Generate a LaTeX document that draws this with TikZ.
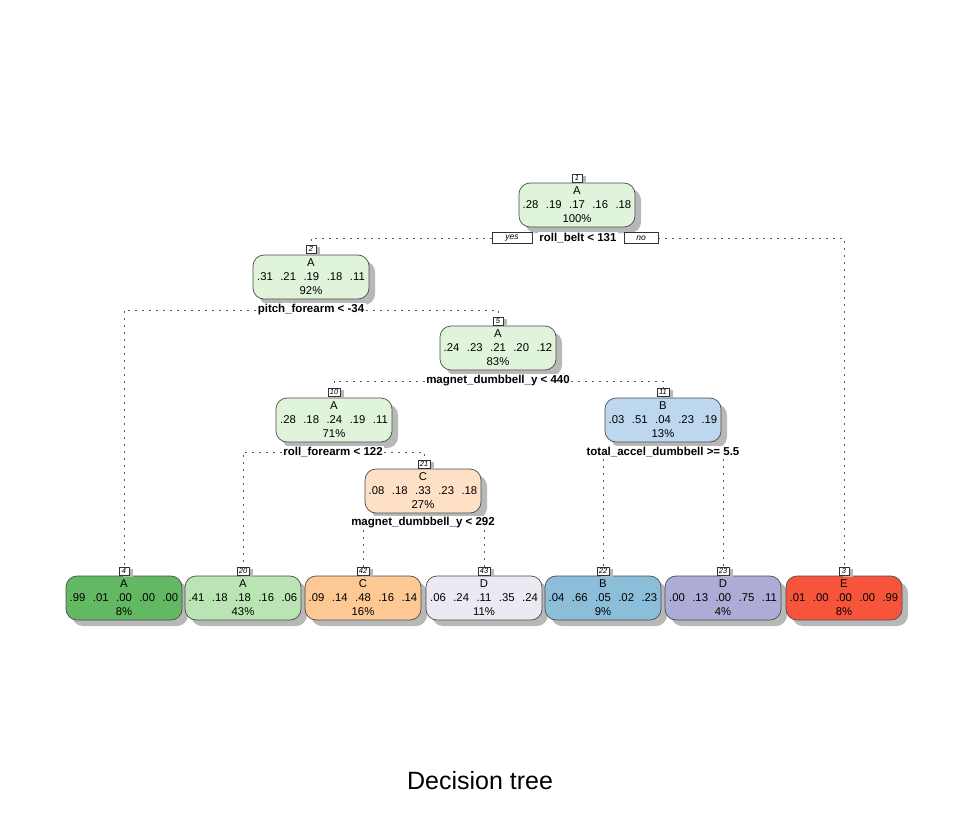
\documentclass[tikz,border=0pt]{standalone}
\usepackage{fontspec}
\setmainfont{Liberation Sans}
\usetikzlibrary{shadows}
\pgfdeclarelayer{bg}
\pgfsetlayers{bg,main}
\definecolor{cAi}{RGB}{224,243,219}
\definecolor{cAleaf}{RGB}{99,185,99}
\definecolor{cAlt}{RGB}{186,228,179}
\definecolor{cCleaf}{RGB}{253,200,148}
\definecolor{cCi}{RGB}{254,224,198}
\definecolor{cDlt}{RGB}{236,233,242}
\definecolor{cBleaf}{RGB}{140,190,218}
\definecolor{cBi}{RGB}{189,215,238}
\definecolor{cDleaf}{RGB}{172,172,214}
\definecolor{cEleaf}{RGB}{246,85,60}
\newcommand{\pr}[5]{#1\hspace{7.5pt}#2\hspace{7.5pt}#3\hspace{7.5pt}#4\hspace{7.5pt}#5}
\tikzset{
  tnode/.style={draw=black!70, line width=0.7pt, rounded corners=11pt,
    minimum width=116pt, minimum height=44pt, inner sep=0pt, align=center,
    font=\fontsize{11.3}{14}\selectfont,
    drop shadow={shadow xshift=6pt, shadow yshift=-6pt, fill=black!28, opacity=1}},
  numlab/.style={draw=black!80, fill=white, line width=0.5pt,
    font=\fontsize{7.5}{8}\selectfont\itshape, inner xsep=2pt, inner ysep=0.5pt,
    minimum height=8.5pt, minimum width=10.5pt,
    drop shadow={shadow xshift=4pt, shadow yshift=-2pt, fill=black!28, opacity=1}},
  splitlab/.style={font=\fontsize{11.5}{13}\selectfont\bfseries, fill=white, inner sep=1.5pt},
  yesno/.style={draw=black!80, fill=white, line width=0.5pt,
    font=\fontsize{8.5}{10}\selectfont\itshape, minimum height=11pt, inner sep=0pt},
  edge/.style={draw=black!65, line width=0.7pt, dash pattern=on 2pt off 5pt}
}
\begin{document}
\begin{tikzpicture}[x=1pt,y=-1pt]
\useasboundingbox (0,0) rectangle (968,832);
% interior nodes
\node[tnode, fill=cAi] (n1) at (577,205) {A\\\pr{.28}{.19}{.17}{.16}{.18}\\100\%};
\node[numlab] (l1) at (577,178) {1};
\node[splitlab] (s1) at (578,238) {roll\_belt < 131};
\node[yesno, minimum width=40pt] (yes) at (512,238) {yes};
\node[yesno, minimum width=34pt] (no) at (641,238) {no};

\node[tnode, fill=cAi] (n2) at (311,277) {A\\\pr{.31}{.21}{.19}{.18}{.11}\\92\%};
\node[numlab] (l2) at (311,249) {2};
\node[splitlab] (s2) at (311,310) {pitch\_forearm < -34};

\node[tnode, fill=cAi] (n5) at (498,348) {A\\\pr{.24}{.23}{.21}{.20}{.12}\\83\%};
\node[numlab] (l5) at (498,321) {5};
\node[splitlab] (s5) at (498,381) {magnet\_dumbbell\_y < 440};

\node[tnode, fill=cAi] (n10) at (334,420) {A\\\pr{.28}{.18}{.24}{.19}{.11}\\71\%};
\node[numlab] (l10) at (334,392) {10};
\node[splitlab] (s10) at (333,452) {roll\_forearm < 122};

\node[tnode, fill=cBi] (n11) at (663,420) {B\\\pr{.03}{.51}{.04}{.23}{.19}\\13\%};
\node[numlab] (l11) at (663,392) {11};
\node[splitlab] (s11) at (663,452) {total\_accel\_dumbbell >= 5.5};

\node[tnode, fill=cCi] (n21) at (423,491) {C\\\pr{.08}{.18}{.33}{.23}{.18}\\27\%};
\node[numlab] (l21) at (424,464) {21};
\node[splitlab] (s21) at (423,523) {magnet\_dumbbell\_y < 292};

% leaves
\node[tnode, fill=cAleaf] (n4) at (124,598) {A\\\pr{.99}{.01}{.00}{.00}{.00}\\8\%};
\node[numlab] (l4) at (124,571) {4};
\node[tnode, fill=cAlt] (n20) at (243,598) {A\\\pr{.41}{.18}{.18}{.16}{.06}\\43\%};
\node[numlab] (l20) at (243,571) {20};
\node[tnode, fill=cCleaf] (n42) at (363,598) {C\\\pr{.09}{.14}{.48}{.16}{.14}\\16\%};
\node[numlab] (l42) at (363,571) {42};
\node[tnode, fill=cDlt] (n43) at (484,598) {D\\\pr{.06}{.24}{.11}{.35}{.24}\\11\%};
\node[numlab] (l43) at (484,571) {43};
\node[tnode, fill=cBleaf] (n22) at (603,598) {B\\\pr{.04}{.66}{.05}{.02}{.23}\\9\%};
\node[numlab] (l22) at (603,571) {22};
\node[tnode, fill=cDleaf] (n23) at (723,598) {D\\\pr{.00}{.13}{.00}{.75}{.11}\\4\%};
\node[numlab] (l23) at (723,571) {23};
\node[tnode, fill=cEleaf] (n3) at (844,598) {E\\\pr{.01}{.00}{.00}{.00}{.99}\\8\%};
\node[numlab] (l3) at (844,571) {3};

\node[font=\fontsize{25}{29}\selectfont] (title) at (480,781) {Decision tree};

\begin{pgfonlayer}{bg}
\fill[white] (0,0) rectangle (968,832);
\draw[edge] (yes.west) -| (l2.north);
\draw[edge] (no.east) -| (l3.north);
\draw[edge] (s2.west) -| (l4.north);
\draw[edge] (s2.east) -| (l5.north);
\draw[edge] (s5.west) -| (l10.north);
\draw[edge] (s5.east) -| (l11.north);
\draw[edge] (s10.west) -| (l20.north);
\draw[edge] (s10.east) -| (l21.north);
\draw[edge] (s11.south -| l22.north) -- (l22.north);
\draw[edge] (s11.south -| l23.north) -- (l23.north);
\draw[edge] (s21.south -| l42.north) -- (l42.north);
\draw[edge] (s21.south -| l43.north) -- (l43.north);
\end{pgfonlayer}
\end{tikzpicture}
\end{document}
